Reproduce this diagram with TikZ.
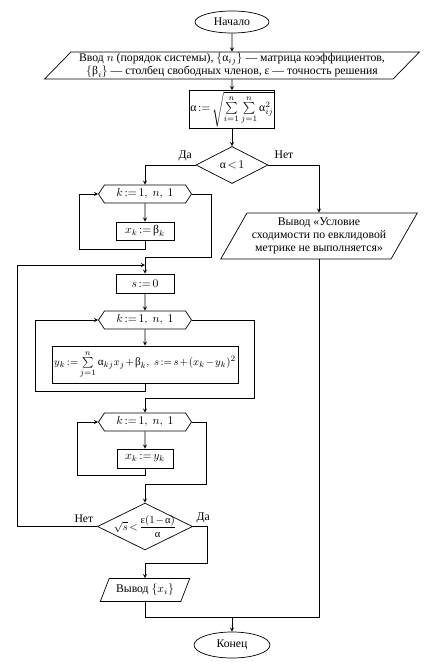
\documentclass[tikz,border=0pt]{standalone}
\usepackage{amsmath}
\usepackage{fontspec}
\setmainfont{Liberation Serif}
\usetikzlibrary{shapes.geometric,shapes.symbols}

\newcommand{\galpha}{\text{α}}
\newcommand{\gbeta}{\text{β}}
\newcommand{\geps}{\text{ε}}
\newcommand{\chartfont}{\fontsize{10}{11}\selectfont
    \thickmuskip=2.5mu\relax\medmuskip=1.5mu\relax}

\begin{document}
\begin{tikzpicture}[font=\chartfont,
    >=stealth,x=0.03cm,y=-0.03cm,line width=0.6pt,
    term/.style={draw,ellipse,minimum width=2.22cm,minimum height=0.66cm,inner sep=0pt},
    block/.style={draw,rectangle,minimum height=0.54cm,inner sep=2pt},
    loophead/.style={draw,signal,signal to=east and west,signal pointer angle=113,
        minimum width=2.79cm,minimum height=0.54cm,inner sep=1pt},
    io/.style={draw,trapezium,trapezium stretches=true,align=center,inner sep=1pt},
    cond/.style={draw,diamond,inner sep=1pt}]
    \useasboundingbox (0,0) rectangle (429,670);

    \node[term] (start) at (232,22) {Начало};
    \node[io,trapezium left angle=47,trapezium right angle=133,
        minimum width=11.25cm,minimum height=0.81cm] (input) at (232,65.5)
        {Ввод $n$ (порядок системы), $\{\galpha_{ij}\}$ — матрица коэффициентов,\\
         $\{\gbeta_i\}$ — столбец свободных членов, $\geps$ — точность решения};
    \node[block,minimum width=2.46cm,minimum height=0.87cm,inner sep=1pt] (norm) at (232,109.5)
        {$\galpha := \sqrt{\sum\limits_{i=1}^{n}\sum\limits_{j=1}^{n}\galpha_{ij}^{2}}$};
    \node[cond,minimum width=2.16cm,minimum height=1.08cm] (test) at (232,165) {$\galpha < 1$};
    \node[io,trapezium left angle=57,trapezium right angle=123,
        minimum width=5.91cm,minimum height=1.38cm] (fail) at (319,236)
        {Вывод «Условие\\ сходимости по евклидовой\\ метрике не выполняется»};

    \node[loophead] (loopa) at (145,194) {$k := 1,\ n,\ 1$};
    \node[block,minimum width=1.74cm] (init) at (145,231) {$x_k := \gbeta_k$};
    \node[block,minimum width=1.74cm,minimum height=0.57cm] (szero) at (145,283.5) {$s := 0$};
    \node[loophead] (loopb) at (145,320) {$k := 1,\ n,\ 1$};
    \node[block,minimum width=5.46cm,minimum height=1.11cm,
        font=\chartfont\fontsize{9.5}{11}\selectfont] (iter) at (145,364.5)
        {$y_k := \sum\limits_{j=1}^{n}\galpha_{kj}x_j + \gbeta_k,\ s := s + (x_k - y_k)^2$};
    \node[loophead] (loopc) at (145,422) {$k := 1,\ n,\ 1$};
    \node[block,minimum width=1.68cm,minimum height=0.57cm] (copy) at (145,458.5) {$x_k := y_k$};
    \node[cond,minimum width=2.85cm,minimum height=1.35cm,inner sep=-8pt,
        font=\chartfont\fontsize{9}{10}\selectfont] (check) at (145,526.5)
        {$\sqrt{s} < \dfrac{\geps(1-\galpha)}{\galpha}$};
    \node[io,trapezium left angle=62,trapezium right angle=118,
        minimum width=2.7cm,minimum height=0.69cm] (result) at (145,590) {Вывод $\{x_i\}$};
    \node[term,minimum width=2.28cm,minimum height=0.78cm] (finish) at (232,645) {Конец};

    \coordinate (merge) at (145,265);
    \coordinate (join) at (232,617);

    \draw[->] (start) -- (input);
    \draw[->] (input) -- (norm);
    \draw[->] (norm) -- (test);
    \draw[->] (test.west) node[above left,inner sep=3pt] {Да} -| (loopa.north);
    \draw[->] (test.east) node[above right,inner sep=5pt] {Нет} -| (fail.north);

    \draw[->] (loopa) -- (init);
    \draw[->] (init.south) -- ++(0,9) -| ([xshift=-0.57cm]loopa.west) -- (loopa.west);
    \draw (loopa.east) -- ++(19,0) |- ([yshift=0.24cm]merge) -- (merge);
    \draw[->] (merge) -- (szero);

    \draw[->] (szero) -- (loopb);
    \draw[->] (loopb) -- (iter);
    \draw[->] (iter.south) -- ++(0,8) -| ([xshift=-1.89cm]loopb.west) -- (loopb.west);
    \draw[->] (loopb.east) -- ++(62,0) |- ([yshift=0.42cm]loopc.north) -- (loopc.north);

    \draw[->] (loopc) -- (copy);
    \draw[->] (copy.south) -- ++(0,7) -| ([xshift=-0.63cm]loopc.west) -- (loopc.west);
    \draw[->] (loopc.east) -- ++(14,0) |- ([yshift=0.54cm]check.north) -- (check.north);

    \draw[->] (check.west) node[above left,inner sep=3pt] {Нет} -- ++(-80,0) |- (merge);
    \draw[->] (check.east) node[above right,inner sep=3pt] {Да} -- ++(14,0)
        |- ([yshift=0.45cm]result.north) -- (result.north);

    \draw (result.south) |- (join);
    \draw (fail.south) |- (join);
    \draw[->] (join) -- (finish);
\end{tikzpicture}
\end{document}
